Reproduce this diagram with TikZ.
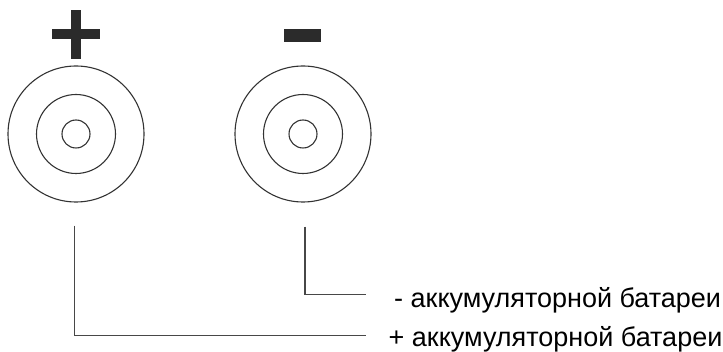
\documentclass[tikz,border=0pt]{standalone}
\usepackage{fontspec}
\setmainfont{Liberation Sans}
\usetikzlibrary{positioning}
\begin{document}
\begin{tikzpicture}[x=1pt, y=-1pt,
    ring/.style={circle, draw=black!80, line width=1.1pt, minimum size=#1, inner sep=0pt},
    sign/.style={fill=black!83},
    wire/.style={draw=black!72, line width=1.4pt},
    lbl/.style={anchor=base west, inner sep=0pt, font=\fontsize{27}{30}\selectfont}]
    \useasboundingbox (0,0) rectangle (723,352);

    % клемма +
    \node[ring=136pt] (plusout) at (76,134) {};
    \node[ring=79pt] (plusmid) at (plusout) {};
    \node[ring=28pt] (plusin) at (plusout) {};
    \fill[sign] (71,10) rectangle (80.7,58.7);
    \fill[sign] (51.7,29.3) rectangle (100,39);

    % клемма -
    \node[ring=136pt] (minusout) at (303,134) {};
    \node[ring=79pt] (minusmid) at (minusout) {};
    \node[ring=28pt] (minusin) at (minusout) {};
    \fill[sign] (284.3,29) rectangle (321,41.7);

    % подписи
    \node[lbl] (minuslbl) at (394,307.5) {- аккумуляторной батареи};
    \node[lbl] (pluslbl) at (388.5,347) {+ аккумуляторной батареи};
    \coordinate (minusend) at (365.5,294.7);
    \coordinate (plusend) at (365.5,335.5);

    % выводы
    \draw[wire] ([xshift=-1.5pt, yshift=-23pt]plusout.south) |- (plusend);
    \draw[wire] ([xshift=2pt, yshift=-24pt]minusout.south) |- (minusend);
\end{tikzpicture}
\end{document}
